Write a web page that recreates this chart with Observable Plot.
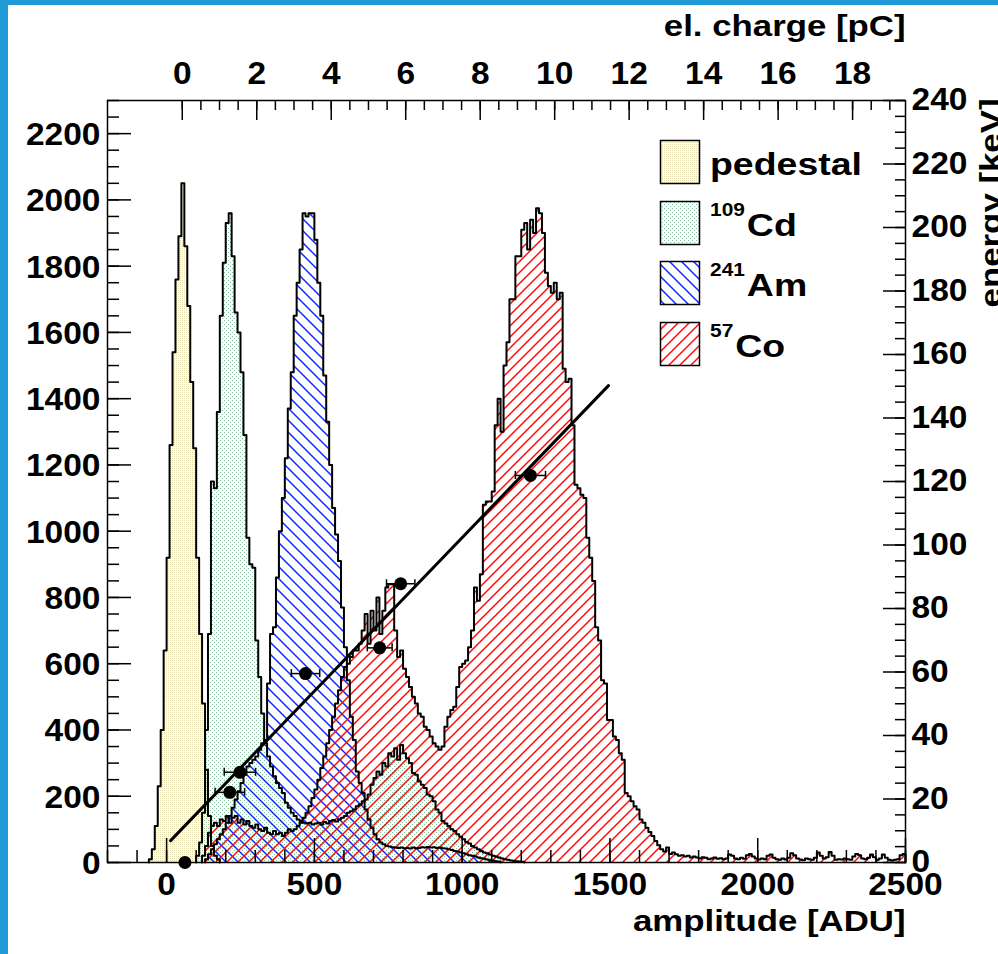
<!DOCTYPE html>
<html><head><meta charset="utf-8">
<script src="https://cdn.jsdelivr.net/npm/d3@7"></script>
<script src="https://cdn.jsdelivr.net/npm/@observablehq/plot@0.6"></script>
<style>
html,body{margin:0;padding:0;background:#fff;}
#wrap{position:relative;width:998px;height:954px;overflow:hidden;background:#fff;}
#bl{position:absolute;left:0;top:0;width:8px;height:954px;background:#1f9ad6;}
#bt{position:absolute;left:0;top:0;width:998px;height:5px;background:#1f9ad6;}
#chart svg text{font-family:"Liberation Sans",Arial,sans-serif;font-weight:bold;}
</style></head><body>
<div id="wrap"><div id="chart"></div><div id="bl"></div><div id="bt"></div></div>
<script>
// ---------- data ----------
const binWidth = 10; // ADU
const pedestalStart = -60;
const pedestalCounts = [10, 40, 110, 230, 400, 640, 920, 1260, 1540, 1760, 1890, 2050, 1860, 1680, 1450, 1250, 920, 690, 480, 280, 140, 50, 20, 10];

const cdStart = 100;
const cdCounts = [
  20, 60, 150, 400, 690, 1150, 1130, 1360, 1650, 1810,
  1930, 1960, 1830, 1660, 1600, 1480, 1290, 980, 900, 890,
  670, 560, 450, 360, 320, 290, 260, 240, 225, 210,
  180, 165, 150, 140, 130, 125, 120, 118, 120, 115,
  118, 120, 115, 122, 118, 125, 128, 124, 130, 135,
  140, 150, 155, 160, 170, 175, 185, 190, 205, 235,
  255, 275, 265, 300, 290, 330, 320, 345, 310, 355,
  330, 315, 300, 270, 265, 245, 235, 225, 205, 200,
  185, 160, 150, 125, 118, 110, 100, 95, 85, 78,
  70, 62, 57, 50, 45, 40, 35, 30, 28, 24,
  20, 18, 15, 12, 10, 8, 6, 5, 4, 3, 2];

const amStart = 130;
const amCounts = [
  10, 25, 40, 55, 70, 85, 100,
  120, 140, 165, 190, 215, 240, 265, 290, 300, 310,
  320, 340, 360, 370, 540, 690, 710, 860, 1000, 1100,
  1220, 1370, 1480, 1650, 1750, 1850, 1960, 1950, 1960, 1960,
  1880, 1750, 1650, 1470, 1330, 1200, 1070, 990, 910, 770,
  650, 550, 440, 370, 275, 240, 210, 160, 130, 105,
  85, 70, 60, 55, 50, 48, 46, 45, 44, 45,
  43, 44, 42, 45, 43, 44, 46, 45, 47, 45,
  46, 44, 45, 43, 42, 40, 38, 35, 33, 30,
  28, 25, 22, 20, 18, 15, 13, 11, 9, 7,
  5, 4, 3];

const coStart = 120;
const coCounts = [
  20, 50, 90, 110, 120, 110, 130, 125, 140, 120,
  135, 140, 120, 130, 115, 125, 110, 105, 115, 100,
  95, 105, 90, 85, 95, 85, 90, 80, 90, 100,
  95, 100, 110, 120, 135, 150, 170, 195, 220, 250,
  285, 320, 360, 400, 440, 480, 520, 560, 590, 600,
  620, 640, 640, 660, 700, 750, 660, 760, 700, 800,
  690, 760, 830, 840, 840, 700, 620, 640, 585, 560,
  530, 500, 480, 450, 440, 410, 400, 380, 360, 350,
  340, 350, 410, 440, 460, 470, 530, 590, 600, 610,
  650, 700, 830, 790, 870, 1080, 1090, 1090, 1120, 1320,
  1400, 1300, 1500, 1570, 1700, 1700, 1830, 1830, 1910, 1930,
  1850, 1940, 1900, 1975, 1960, 1900, 1780, 1740, 1720, 1750,
  1700, 1720, 1490, 1450, 1460, 1320, 1140, 1130, 1110, 1100,
  980, 920, 850, 710, 670, 550, 540, 430, 430, 380,
  370, 330, 310, 210, 200, 185, 170, 160, 130, 120,
  105, 92, 80, 65, 52, 40, 33, 45, 26, 30,
  25, 20, 22, 18, 20, 15,
  18, 15, 12, 16, 14, 10, 12, 15, 11, 13, 10, 12,
  24, 20, 12, 10, 14, 11, 22, 26, 18, 12,
  9, 12, 10, 20, 24, 14, 10, 8, 12, 9,
  14, 28, 22, 12, 9, 7, 12, 10, 8, 14,
  30, 20, 12, 16, 32, 20, 8, 10, 9, 12,
  10, 8, 18, 26, 22, 12, 10, 14, 24, 16,
  8, 12, 24, 14, 8, 6, 8, 10, 22, 26];

// calibration points (amplitude in ADU, energy in keV, horizontal error in ADU)
const pointADU = [62, 214, 248, 470, 721, 792, 1231];
const pointKeV = [0, 22.1, 28.4, 59.5, 67.6, 87.8, 121.9];
const pointErrADU = [12, 50, 53, 48, 42, 48, 51];
// linear fit end points
const fitADU = [13.5, 1495];
const fitKeV = [6.9, 150.2];

// axes
const xDomain = [-200, 2500];
const yDomain = [0, 2300];
const keVMax = 240;              // right axis spans the same height
const pcZeroADU = 53, aduPerPC = 126; // top axis: el. charge
const xTickLabels = [0, 500, 1000, 1500, 2000, 2500];
const yTickLabels = [0, 200, 400, 600, 800, 1000, 1200, 1400, 1600, 1800, 2000, 2200];
const pcTickLabels = [0, 2, 4, 6, 8, 10, 12, 14, 16, 18];
const keVTickLabels = [0, 20, 40, 60, 80, 100, 120, 140, 160, 180, 200, 220, 240];
const legendItems = [
  {sup: "", main: "pedestal", pat: "pPed"},
  {sup: "109", main: "Cd", pat: "pCd"},
  {sup: "241", main: "Am", pat: "pAm"},
  {sup: "57", main: "Co", pat: "pCo"}
];

// ---------- derived ----------
const W = 998, H = 954, mL = 107, mR = 93, mT = 100, mB = 92;
const pxX = (W - mL - mR) / (xDomain[1] - xDomain[0]);
const pxY = (H - mT - mB) / (yDomain[1] - yDomain[0]);
const cpk = yDomain[1] / keVMax;
const pc2adu = p => pcZeroADU + aduPerPC * p;

function steps(start, counts) {
  const pts = [{x: start, y: 0}];
  counts.forEach((c, i) => {
    pts.push({x: start + i * binWidth, y: c}, {x: start + (i + 1) * binWidth, y: c});
  });
  pts.push({x: start + counts.length * binWidth, y: 0});
  return pts;
}
const hists = [
  {pts: steps(pedestalStart, pedestalCounts), pat: "pPed"},
  {pts: steps(cdStart, cdCounts), pat: "pCd"},
  {pts: steps(amStart, amCounts), pat: "pAm"},
  {pts: steps(coStart, coCounts), pat: "pCo"}
];
const points = pointADU.map((a, i) => ({adu: a, keV: pointKeV[i], err: pointErrADU[i]}));
const fit = fitADU.map((a, i) => ({adu: a, keV: fitKeV[i]}));

const yMinor = d3.range(0, yDomain[1] + 1, 50);
const xMinor = d3.range(xDomain[0], xDomain[1] + 1, 100);
const pcMinor = d3.range(0, 19.01, 0.5);
const keVMinor = d3.range(0, keVMax + 0.1, 5);

const lab = {fontSize: 31, fontWeight: "bold", fill: "black"};
const ttl = {fontSize: 30, fontWeight: "bold", fill: "black"};

const marks = [];
hists.forEach(h => {
  marks.push(Plot.area(h.pts, {x1: "x", y1: 0, y2: "y", fill: `url(#${h.pat})`, curve: "linear"}));
});
hists.forEach(h => {
  marks.push(Plot.line(h.pts, {x: "x", y: "y", stroke: "black", strokeWidth: 2, curve: "linear"}));
});
marks.push(
  Plot.line(fit, {x: "adu", y: d => d.keV * cpk, stroke: "black", strokeWidth: 3}),
  Plot.ruleY(points, {y: d => d.keV * cpk, x1: d => d.adu - d.err, x2: d => d.adu + d.err, stroke: "black", strokeWidth: 1.5}),
  Plot.ruleX(points, {x: d => d.adu - d.err, y1: d => d.keV * cpk - 4 / pxY, y2: d => d.keV * cpk + 4 / pxY, stroke: "black", strokeWidth: 1.5}),
  Plot.ruleX(points, {x: d => d.adu + d.err, y1: d => d.keV * cpk - 4 / pxY, y2: d => d.keV * cpk + 4 / pxY, stroke: "black", strokeWidth: 1.5}),
  Plot.dot(points, {x: "adu", y: d => d.keV * cpk, r: 6.5, fill: "black"}),
  // left axis ticks
  Plot.ruleY(yMinor, {y: d => d, x1: xDomain[0], x2: xDomain[0] + 12 / pxX, stroke: "black", strokeWidth: 1.5}),
  Plot.ruleY(yTickLabels, {y: d => d, x1: xDomain[0], x2: xDomain[0] + 24 / pxX, stroke: "black", strokeWidth: 1.5}),
  // bottom axis ticks
  Plot.ruleX(xMinor, {x: d => d, y1: 0, y2: 12 / pxY, stroke: "black", strokeWidth: 1.5}),
  Plot.ruleX(xTickLabels, {x: d => d, y1: 0, y2: 24 / pxY, stroke: "black", strokeWidth: 1.5}),
  // top axis ticks
  Plot.ruleX(pcMinor, {x: d => pc2adu(d), y1: yDomain[1], y2: yDomain[1] - 10 / pxY, stroke: "black", strokeWidth: 1.5}),
  Plot.ruleX(pcTickLabels, {x: d => pc2adu(d), y1: yDomain[1], y2: yDomain[1] - 20 / pxY, stroke: "black", strokeWidth: 1.5}),
  // right axis ticks
  Plot.ruleY(keVMinor, {y: d => d * cpk, x1: xDomain[1] - 10 / pxX, x2: xDomain[1], stroke: "black", strokeWidth: 1.5}),
  Plot.ruleY(keVTickLabels, {y: d => d * cpk, x1: xDomain[1] - 22 / pxX, x2: xDomain[1], stroke: "black", strokeWidth: 1.5}),
  Plot.frame({stroke: "black", strokeWidth: 1.5}),
  // tick labels
  Plot.text(yTickLabels, {x: xDomain[0], y: d => d, text: d => String(d), textAnchor: "end", lineAnchor: "middle", dx: -7, dy: 1.5, ...lab}),
  Plot.text(xTickLabels, {x: d => d, y: yDomain[0], text: d => String(d), textAnchor: "middle", lineAnchor: "middle", dy: 23, ...lab}),
  Plot.text(pcTickLabels, {x: d => pc2adu(d), y: yDomain[1], text: d => String(d), textAnchor: "middle", lineAnchor: "middle", dy: -26, ...lab}),
  Plot.text(keVTickLabels, {x: xDomain[1], y: d => d * cpk, text: d => String(d), textAnchor: "start", lineAnchor: "middle", dx: 6, ...lab}),
  // axis titles
  Plot.text(["el. charge [pC]"], {frameAnchor: "top-right", text: d => d, textAnchor: "end", lineAnchor: "bottom", dy: -65, ...ttl}),
  Plot.text(["amplitude [ADU]"], {frameAnchor: "bottom-right", text: d => d, textAnchor: "end", lineAnchor: "bottom", dy: 68, ...ttl}),
  Plot.text(["energy [keV]"], {frameAnchor: "top-right", text: d => d, textAnchor: "end", lineAnchor: "bottom", rotate: -90, dx: 95, dy: -2, ...ttl})
);

const svg = Plot.plot({
  width: W, height: H, marginLeft: mL, marginRight: mR, marginTop: mT, marginBottom: mB,
  x: {domain: xDomain, axis: null},
  y: {domain: yDomain, axis: null},
  style: {background: "transparent", fontFamily: '"Liberation Sans", Arial, sans-serif'},
  marks
});
document.getElementById("chart").append(svg);

// fill patterns
d3.select(svg).insert("defs", ":first-child").html(`
  <pattern id="pPed" width="2" height="2" patternUnits="userSpaceOnUse">
    <rect width="1" height="1" fill="#e4ddb2"/>
  </pattern>
  <pattern id="pCd" width="4" height="4" patternUnits="userSpaceOnUse">
    <rect width="1" height="1" fill="#86bea0"/>
    <rect x="2" y="2" width="1" height="1" fill="#86bea0"/>
  </pattern>
  <pattern id="pAm" width="12" height="12" patternUnits="userSpaceOnUse">
    <path d="M-1,-1L13,13M-2,10L2,14M10,-2L14,2" stroke="#0a2aff" stroke-width="1.5" fill="none"/>
  </pattern>
  <pattern id="pCo" width="11" height="11" patternUnits="userSpaceOnUse">
    <path d="M-1,12L12,-1M-2,2L2,-2M9,13L13,9" stroke="#ff0a0a" stroke-width="1.5" fill="none"/>
  </pattern>`);

// stretch text horizontally (the reference font is wider)
function stretch(t, f) {
  const w = t.getComputedTextLength();
  t.setAttribute("textLength", (w * f).toFixed(1));
  t.setAttribute("lengthAdjust", "spacingAndGlyphs");
}
svg.querySelectorAll("text").forEach(t => stretch(t, /^[0-9]+$/.test(t.textContent) ? 1.08 : 1.16));

// legend (inside the frame, top right)
const leg = d3.select(svg).append("g")
  .attr("font-family", '"Liberation Sans", Arial, sans-serif').attr("font-weight", "bold")
  .attr("text-anchor", "start").attr("fill", "black");
legendItems.forEach((it, i) => {
  const top = 140 + i * 60.6;
  leg.append("rect").attr("x", 660.5).attr("y", Math.round(top) + 0.5).attr("width", 39).attr("height", 43)
    .attr("fill", `url(#${it.pat})`).attr("stroke", "black").attr("stroke-width", 1.5);
  let x = 710;
  if (it.sup) {
    const s = leg.append("text").attr("x", x).attr("y", top + 15).attr("font-size", 19).text(it.sup);
    const w = s.node().getComputedTextLength();
    stretch(s.node(), 1.1);
    x += w * 1.1 + 2;
  }
  const m = leg.append("text").attr("x", x).attr("y", top + 35).attr("font-size", 32).text(it.main);
  stretch(m.node(), 1.17);
});
</script></body></html>
